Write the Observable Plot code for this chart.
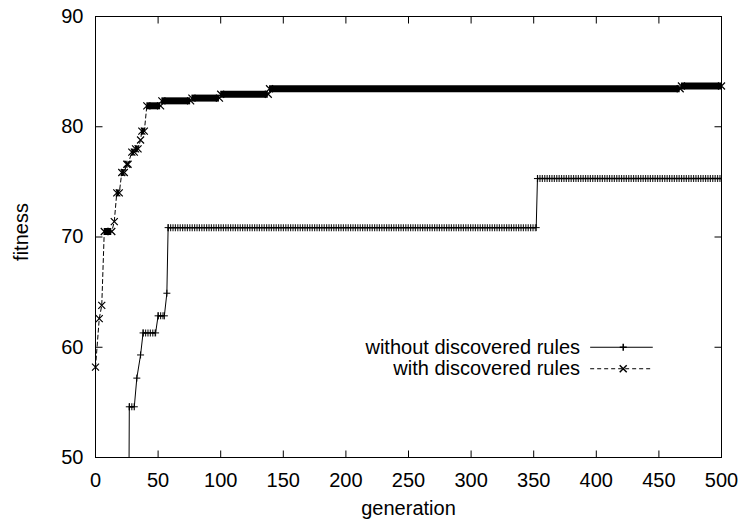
<!DOCTYPE html>
<html><head><meta charset="utf-8">
<script src="https://cdn.jsdelivr.net/npm/d3@7"></script>
<script src="https://cdn.jsdelivr.net/npm/@observablehq/plot@0.6"></script>
<style>body{margin:0;background:#fff} #chart svg{display:block}</style>
</head><body><div id="chart"></div>
<script>
// ---- data ----
const xTicks = [0, 50, 100, 150, 200, 250, 300, 350, 400, 450, 500];
const yTicks = [50, 60, 70, 80, 90];
const seriesNames = ["without discovered rules", "with discovered rules"];

// "without discovered rules": plateaus (first generation, last generation, fitness)
const withoutStart = [26, 27, 33, 36, 38, 50, 57, 58, 353];
const withoutEnd   = [26, 31, 33, 36, 48, 55, 57, 352, 500];
const withoutFit   = [30, 54.6, 57.2, 59.3, 61.3, 62.85, 64.9, 70.85, 75.3];

// "with discovered rules"
const withStart = [0, 3, 5, 7, 15, 17, 21, 25, 29, 32, 36, 37, 41, 53, 77, 100, 139, 468];
const withEnd   = [0, 3, 5, 13, 15, 19, 23, 26, 31, 34, 36, 39, 52, 76, 99, 138, 467, 500];
const withFit   = [58.2, 62.6, 63.8, 70.5, 71.4, 74.0, 75.85, 76.6, 77.7, 78.0, 78.8, 79.6, 81.9, 82.35, 82.6, 82.95, 83.45, 83.7];

// ---- helpers ----
const steps = (s, e, f) => s.map((d, i) => ({start: d, end: e[i], fit: f[i]}));
const pts = st => st.flatMap(d => d.end > d.start ? [{gen: d.start, fit: d.fit}, {gen: d.end, fit: d.fit}] : [{gen: d.start, fit: d.fit}]);
const woSteps = steps(withoutStart, withoutEnd, withoutFit);
const wSteps = steps(withStart, withEnd, withFit);
const woPts = pts(woSteps), wPts = pts(wSteps);
const woBands = woSteps.filter(d => d.end > d.start);
const wBands = wSteps.filter(d => d.end > d.start);

const arm = size => Math.sqrt(size / Math.PI);
const plusSym = {draw(c, s) { const r = arm(s); c.moveTo(-r, 0); c.lineTo(r, 0); c.moveTo(0, -r); c.lineTo(0, r); }};
const timesSym = {draw(c, s) { const r = arm(s); c.moveTo(-r, -r); c.lineTo(r, r); c.moveTo(-r, r); c.lineTo(r, -r); }};
const TL = 7;
const tickUp = {draw(c) { c.moveTo(0, 0); c.lineTo(0, -TL); }};
const tickDown = {draw(c) { c.moveTo(0, 0); c.lineTo(0, TL); }};
const tickRight = {draw(c) { c.moveTo(0, 0); c.lineTo(TL, 0); }};
const tickLeft = {draw(c) { c.moveTo(0, 0); c.lineTo(-TL, 0); }};

// key layout (in plot units)
const keyTextX = 387, keyX1 = 395.5, keyX2 = 445.5, keyMX = 421.5;
const keyY = [60.0, 58.05];
const keyRows = seriesNames.map((name, i) => ({name, y: keyY[i]}));

const font = "'Liberation Sans', Arial, Helvetica, sans-serif";
const fs = 20;

const chart = Plot.plot({
  width: 739, height: 525,
  marginLeft: 95, marginRight: 18, marginTop: 16, marginBottom: 68,
  style: {fontFamily: font, fontSize: fs + "px", background: "#fff", color: "#000"},
  x: {domain: [0, 500], label: null, axis: null},
  y: {domain: [50, 90], label: null, axis: null},
  marks: [
    Plot.frame({stroke: "black", strokeWidth: 1}),
    Plot.dot(xTicks, {x: d => d, frameAnchor: "bottom", symbol: tickUp, stroke: "black", fill: "none", strokeWidth: 1}),
    Plot.dot(xTicks, {x: d => d, frameAnchor: "top", symbol: tickDown, stroke: "black", fill: "none", strokeWidth: 1}),
    Plot.dot(yTicks, {y: d => d, frameAnchor: "left", symbol: tickRight, stroke: "black", fill: "none", strokeWidth: 1}),
    Plot.dot(yTicks, {y: d => d, frameAnchor: "right", symbol: tickLeft, stroke: "black", fill: "none", strokeWidth: 1}),
    Plot.axisX(xTicks, {anchor: "bottom", tickSize: 0, tickPadding: 15, fontSize: fs, label: null}),
    Plot.axisY(yTicks, {anchor: "left", tickSize: 0, tickPadding: 12, fontSize: fs, label: null}),
    Plot.text(["generation"], {frameAnchor: "bottom", textAnchor: "middle", dy: 57, fontSize: fs}),
    Plot.text(["fitness"], {frameAnchor: "left", textAnchor: "middle", dx: -74, dy: -5, rotate: -90, fontSize: fs}),

    // without discovered rules
    Plot.line(woPts, {x: "gen", y: "fit", stroke: "black", strokeWidth: 1, clip: true}),
    Plot.ruleY(woBands, {y: "fit", x1: "start", x2: "end", stroke: "black", strokeWidth: 7, strokeOpacity: 0.85, strokeDasharray: "1.2,1.2"}),
    Plot.ruleY(woBands, {y: "fit", x1: "start", x2: "end", stroke: "black", strokeWidth: 1.5}),
    Plot.dot(woPts, {x: "gen", y: "fit", symbol: plusSym, r: 3.5, stroke: "black", fill: "none", strokeWidth: 1, clip: true}),

    // with discovered rules
    Plot.line(wPts, {x: "gen", y: "fit", stroke: "black", strokeWidth: 1, strokeDasharray: "4,3"}),
    Plot.ruleY(wBands, {y: "fit", x1: "start", x2: "end", stroke: "black", strokeWidth: 7}),
    Plot.dot(wPts, {x: "gen", y: "fit", symbol: timesSym, r: 3.5, stroke: "black", fill: "none", strokeWidth: 1.2}),

    // key
    Plot.text(keyRows, {x: () => keyTextX, y: "y", text: "name", textAnchor: "end", fontSize: fs}),
    Plot.ruleY(keyRows.slice(0, 1), {y: "y", x1: () => keyX1, x2: () => keyX2, stroke: "black", strokeWidth: 1}),
    Plot.ruleY(keyRows.slice(1), {y: "y", x1: () => keyX1, x2: () => keyX2, stroke: "black", strokeWidth: 1, strokeDasharray: "4,3"}),
    Plot.dot(keyRows.slice(0, 1), {x: () => keyMX, y: "y", symbol: plusSym, r: 3.5, stroke: "black", fill: "none"}),
    Plot.dot(keyRows.slice(1), {x: () => keyMX, y: "y", symbol: timesSym, r: 3.5, stroke: "black", fill: "none"})
  ]
});
document.getElementById("chart").appendChild(chart);
</script>
</body></html>
